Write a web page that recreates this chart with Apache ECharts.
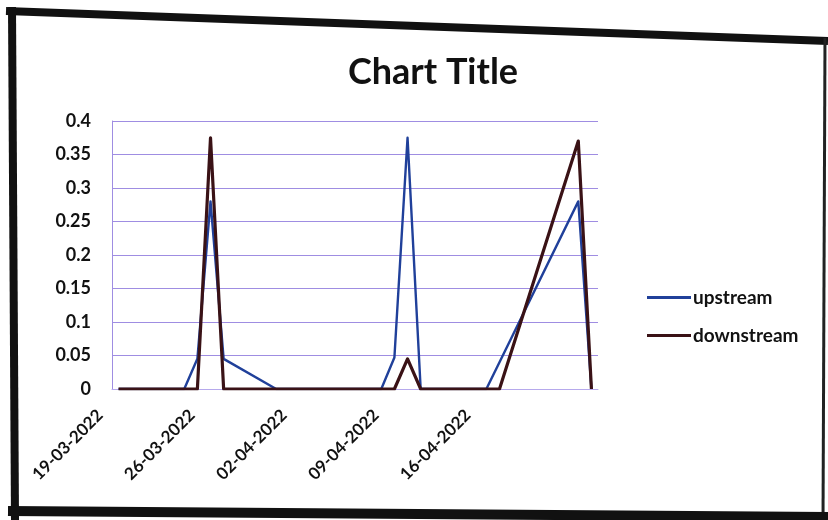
<!DOCTYPE html>
<html>
<head>
<meta charset="utf-8">
<script src="https://cdn.jsdelivr.net/npm/echarts@6/dist/echarts.min.js"></script>
<style>
html,body{margin:0;padding:0;background:#fff;}
#chart{width:828px;height:520px;}
</style>
</head>
<body>
<div id="chart"></div>
<script>
// Daily categories (date axis shown every 7 days)
var dates = [
  '19-03-2022','20-03-2022','21-03-2022','22-03-2022','23-03-2022','24-03-2022','25-03-2022',
  '26-03-2022','27-03-2022','28-03-2022','29-03-2022','30-03-2022','31-03-2022','01-04-2022',
  '02-04-2022','03-04-2022','04-04-2022','05-04-2022','06-04-2022','07-04-2022','08-04-2022',
  '09-04-2022','10-04-2022','11-04-2022','12-04-2022','13-04-2022','14-04-2022','15-04-2022',
  '16-04-2022','17-04-2022','18-04-2022','19-04-2022','20-04-2022','21-04-2022','22-04-2022',
  '23-04-2022','24-04-2022'
];
// the date labels that are printed under the axis
var tickLabels = ['19-03-2022','26-03-2022','02-04-2022','09-04-2022','16-04-2022'];
// null = no reading that day (line is drawn straight across)
var upstream = [
  0,0,0,0,0,0,0.045,
  0.28,0.045,null,null,null,0,0,
  0,0,0,0,0,0,0,
  0.047,0.375,0,0,0,0,0,
  0,0.04,null,null,null,null,null,
  0.28,0
];
var downstream = [
  0,0,0,0,0,0,0,
  0.375,0,null,null,null,0,0,
  0,0,0,0,0,0,0,
  0,0.045,0,0,0,0,0,
  0,0,null,null,null,null,null,
  0.37,0
];
var yMin = 0, yMax = 0.4, yStep = 0.05;
var seriesNames = ['upstream','downstream'];
var seriesColors = ['#20409a','#3a1216'];

var chart = echarts.init(document.getElementById('chart'), null, {renderer:'canvas'});
var FONT = 'Lato, "Open Sans", sans-serif';
var gridColor = '#9f8de2';

chart.setOption({
  backgroundColor: '#ffffff',
  animation: false,
  title: {
    text: 'Chart Title',
    left: 428,
    top: 49,
    textAlign: 'center',
    textStyle: {fontFamily: FONT, fontWeight: 'bold', fontSize: 36, color: '#111'}
  },
  legend: {
    orient: 'vertical',
    left: 642,
    top: 283,
    icon: 'rect',
    itemWidth: 44,
    itemHeight: 3,
    itemGap: 19,
    data: seriesNames,
    textStyle: {fontFamily: FONT, fontSize: 19, fontWeight: 'bold', color: '#111', padding: [0,0,0,-3]}
  },
  grid: {left: 112, right: 230, top: 121, bottom: 131, containLabel: false},
  xAxis: {
    type: 'category',
    data: dates,
    boundaryGap: true,
    axisLine: {show: true, lineStyle: {color: '#b6a9ec', width: 1}},
    axisTick: {show: false},
    axisLabel: {
      interval: function (i, v) { return tickLabels.indexOf(v) >= 0; },
      rotate: 45,
      margin: 5,
      padding: [0, 26, 0, 0],
      fontFamily: FONT, fontSize: 17, fontWeight: 'bold', color: '#111'
    },
    splitLine: {show: false}
  },
  yAxis: {
    type: 'value',
    min: yMin, max: yMax, interval: yStep,
    axisLine: {show: true, lineStyle: {color: gridColor, width: 1}},
    axisTick: {show: false},
    axisLabel: {margin: 21, fontFamily: FONT, fontSize: 18, fontWeight: 'bold', color: '#111'},
    splitLine: {show: true, lineStyle: {color: gridColor, width: 1.2}}
  },
  series: [
    {
      name: seriesNames[0], type: 'line', data: upstream,
      connectNulls: true, showSymbol: false, symbol: 'none',
      lineStyle: {color: seriesColors[0], width: 2.4, join: 'round'},
      itemStyle: {color: seriesColors[0]},
      z: 2
    },
    {
      name: seriesNames[1], type: 'line', data: downstream,
      connectNulls: true, showSymbol: false, symbol: 'none',
      lineStyle: {color: seriesColors[1], width: 3.2, join: 'round'},
      itemStyle: {color: seriesColors[1]},
      z: 3
    }
  ],
  graphic: [
    {type: 'line', shape: {x1: 6, y1: 11, x2: 828, y2: 41}, style: {stroke: '#111', lineWidth: 8}},
    {type: 'line', shape: {x1: 12, y1: 7, x2: 15, y2: 520}, style: {stroke: '#111', lineWidth: 8}},
    {type: 'line', shape: {x1: 825, y1: 38, x2: 823, y2: 520}, style: {stroke: '#222', lineWidth: 3}},
    {type: 'line', shape: {x1: 8, y1: 511, x2: 828, y2: 517}, style: {stroke: '#111', lineWidth: 10}}
  ]
});
</script>
</body>
</html>
